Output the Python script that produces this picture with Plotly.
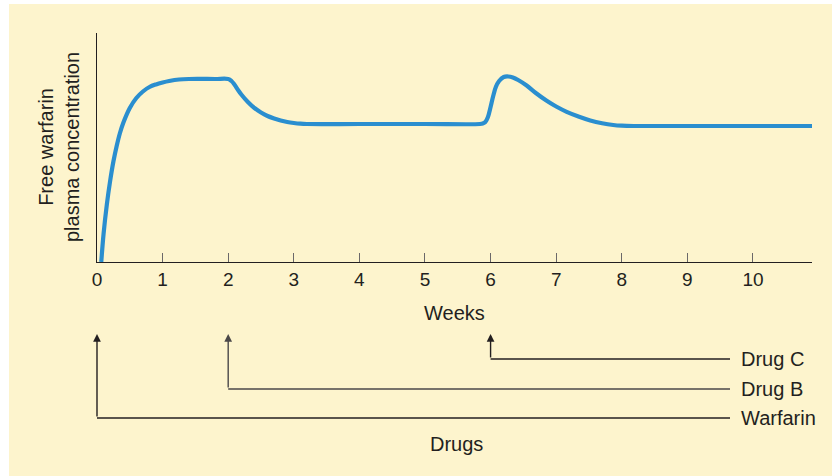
import plotly.graph_objects as go

# ---- data ----
weeks = [0.065, 0.10, 0.15, 0.20, 0.25, 0.30, 0.35, 0.40, 0.50, 0.60, 0.70, 0.80, 0.90, 1.00,
         1.10, 1.25, 1.40, 1.80, 2.00, 2.05, 2.10, 2.15, 2.20, 2.30, 2.40, 2.50, 2.60, 2.70,
         2.80, 2.90, 3.00, 3.10, 3.20, 4.00, 5.00, 5.84, 5.88, 5.92, 5.96, 6.00, 6.04, 6.08,
         6.13, 6.20, 6.27, 6.34, 6.42, 6.55, 6.70, 6.85, 7.00, 7.16, 7.35, 7.52, 7.70, 7.87,
         8.00, 8.20, 9.00, 10.00, 10.90]
free_warfarin = [0, 28, 57.5, 81, 100.5, 116, 129, 139, 154, 164, 170.5, 175, 177.6, 179.5,
                 181, 182.5, 183, 183, 183, 181, 177, 172, 167.5, 160, 154, 149.5, 146, 143.5,
                 141.5, 140, 139, 138.3, 138, 138, 138, 138, 138.5, 140, 145, 155, 166, 175,
                 181, 185, 185.5, 184.5, 182, 176.5, 168.5, 161.5, 155.5, 150.2, 145.3, 141.6, 138.8, 137,
                 136.3, 136, 136, 136, 136]

tick_values = [0, 1, 2, 3, 4, 5, 6, 7, 8, 9, 10]
tick_labels = ["0", "1", "2", "3", "4", "5", "6", "7", "8", "9", "10"]

drug_names = ["Warfarin", "Drug B", "Drug C"]
drug_start_weeks = [0, 2, 6]

# ---- styling / layout ----
BG = "#FDF4CD"
INK = "#231F20"
BLUE = "#2A8ECF"
FONT = "Liberation Sans, Arial, Helvetica, sans-serif"

W, H = 832, 476
ML, MR, MT, MB = 97, 20, 33, 26
PH = H - MT - MB  # plot height in px


def py(pixel):
    """paper y coordinate for a pixel row"""
    return (H - MB - pixel) / PH


def px(pixel):
    return (pixel - ML) / (W - ML - MR)


main_bottom = py(262)
drug_levels = [450 - 418, 450 - 389, 450 - 359]  # y2 units (1 unit = 1 px)
arrow_tip = 450 - 334
line_end = 9.65
label_x = 9.78

fig = go.Figure()

fig.add_trace(go.Scatter(
    x=weeks, y=free_warfarin, mode="lines",
    line=dict(color=BLUE, width=4.2, shape="spline", smoothing=1.0),
    hoverinfo="skip", showlegend=False, cliponaxis=True,
))

annotations = []
for name, start, lvl in zip(drug_names, drug_start_weeks, drug_levels):
    col = INK if name != "Drug B" else "#4a4748"
    fig.add_trace(go.Scatter(
        x=[start, line_end], y=[lvl, lvl], xaxis="x", yaxis="y2", mode="lines",
        line=dict(color=col, width=1.4),
        hoverinfo="skip", showlegend=False,
    ))
    annotations.append(dict(
        x=start, y=arrow_tip, xref="x", yref="y2",
        ax=start, ay=lvl, axref="x", ayref="y2",
        text="", showarrow=True, arrowhead=2, arrowsize=1.1, arrowwidth=1.4,
        arrowcolor=col,
    ))
    annotations.append(dict(
        x=label_x, y=lvl, xref="x", yref="y2", text=name, showarrow=False,
        xanchor="left", yanchor="middle", font=dict(size=20, color=INK, family=FONT),
    ))

annotations += [
    dict(x=0.5, y=py(313), xref="paper", yref="paper", text="Weeks", showarrow=False,
         xanchor="center", yanchor="middle", font=dict(size=20, color=INK, family=FONT)),
    dict(x=px(456), y=py(444), xref="paper", yref="paper", text="Drugs", showarrow=False,
         xanchor="center", yanchor="middle", font=dict(size=20, color=INK, family=FONT)),
    dict(x=px(59), y=py(147), xref="paper", yref="paper",
         text="Free warfarin<br>plasma concentration", showarrow=False, textangle=-90,
         xanchor="center", yanchor="middle", align="center",
         font=dict(size=20, color=INK, family=FONT)),
]

shapes = [
    dict(type="rect", xref="paper", yref="paper", x0=px(0), x1=px(9), y0=py(476), y1=py(0),
         fillcolor="white", line=dict(width=0), layer="above"),
    dict(type="rect", xref="paper", yref="paper", x0=px(0), x1=px(832), y0=py(4), y1=py(0),
         fillcolor="white", line=dict(width=0), layer="above"),
]

fig.update_layout(
    width=W, height=H,
    margin=dict(l=ML, r=MR, t=MT, b=MB, autoexpand=False),
    paper_bgcolor=BG, plot_bgcolor=BG,
    font=dict(family=FONT, color=INK),
    showlegend=False,
    xaxis=dict(
        range=[0, 10.9], anchor="y", showgrid=False, zeroline=False,
        showline=True, linecolor=INK, linewidth=1.4,
        ticks="inside", ticklen=9, tickwidth=1.2, tickcolor="#6b6869",
        tickvals=tick_values, ticktext=tick_labels,
        tickfont=dict(size=19, color=INK, family=FONT),
        ticklabelstandoff=0,
        fixedrange=True,
    ),
    yaxis=dict(
        domain=[main_bottom, 1], range=[0, 229], anchor="x",
        showgrid=False, zeroline=False, showline=True, linecolor=INK, linewidth=1.4,
        showticklabels=False, ticks="", fixedrange=True,
    ),
    yaxis2=dict(
        domain=[0, 0.3], range=[0, 0.3 * PH], anchor="x",
        showgrid=False, zeroline=False, showline=False, visible=False, fixedrange=True,
    ),
    annotations=annotations,
    shapes=shapes,
)

fig.write_html(
    "out.html",
    config={"displayModeBar": False},
    post_script="document.body.style.margin='0';document.body.style.overflow='hidden';",
)
